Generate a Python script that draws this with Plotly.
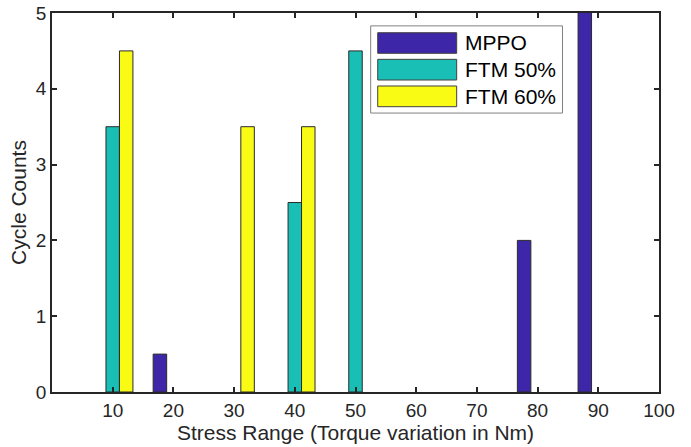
import plotly.graph_objects as go

# Data
groups = [10, 20, 30, 40, 50, 60, 70, 80, 90, 100]
series_names = ["MPPO", "FTM 50%", "FTM 60%"]
mppo = [0, 0.5, 0, 0, 0, 0, 0, 2, 6, 0]
ftm50 = [3.5, 0, 0, 2.5, 4.5, 0, 0, 0, 0, 0]
ftm60 = [4.5, 0, 3.5, 3.5, 0, 0, 0, 0, 0, 0]
colors = ["#3e26a8", "#19bfb5", "#f9fb15"]
xticks = [10, 20, 30, 40, 50, 60, 70, 80, 90, 100]
yticks = [0, 1, 2, 3, 4, 5]

FONT = "Liberation Sans, Arial, Helvetica, sans-serif"
TXT = "#262626"

fig = go.Figure()
for name, vals, col in zip(series_names, [mppo, ftm50, ftm60], colors):
    fig.add_trace(go.Bar(
        x=groups, y=[v if v != 0 else None for v in vals], name=name,
        marker=dict(color=col, line=dict(color="#2b2b2b", width=1)),
        showlegend=False,
    ))

# custom legend (wide swatches like MATLAB)
L = dict(x0=0.525, x1=0.841, y0=0.736, y1=0.966)
fig.add_shape(type="rect", xref="paper", yref="paper", **L,
              line=dict(color="#808080", width=1), fillcolor="white", layer="above")
sw_y = [(0.8937, 0.948), (0.8232, 0.8778), (0.7528, 0.8074)]
for (y0, y1), name, col in zip(sw_y, series_names, colors):
    fig.add_shape(type="rect", xref="paper", yref="paper",
                  x0=0.5366, x1=0.6667, y0=y0, y1=y1,
                  line=dict(color="#404040", width=1), fillcolor=col, layer="above")
    fig.add_annotation(xref="paper", yref="paper", x=0.6766, y=(y0 + y1) / 2,
                       text=name, showarrow=False, xanchor="left", yanchor="middle",
                       font=dict(family=FONT, size=21, color="#000000"))

axis_common = dict(
    showline=True, linecolor=TXT, linewidth=1.5, mirror="ticks",
    ticks="inside", ticklen=5, tickwidth=1.5, tickcolor=TXT,
    showgrid=False, zeroline=False, automargin=False,
    tickfont=dict(family=FONT, size=19, color=TXT),
)

fig.update_layout(
    width=691, height=447,
    margin=dict(l=52, r=32, t=13, b=55),
    paper_bgcolor="white", plot_bgcolor="white",
    barmode="group", bargap=1/3, bargroupgap=0,
    xaxis=dict(range=[0, 100], tickvals=xticks, ticktext=[str(v) for v in xticks],
               title=dict(text="Stress Range (Torque variation in Nm)",
                          font=dict(family=FONT, size=21, color=TXT), standoff=4),
               **axis_common),
    yaxis=dict(range=[0, 5], tickvals=yticks, ticktext=[str(v) for v in yticks],
               title=dict(text="Cycle Counts",
                          font=dict(family=FONT, size=21, color=TXT), standoff=4),
               **axis_common),
)

fig.write_html("out.html")
